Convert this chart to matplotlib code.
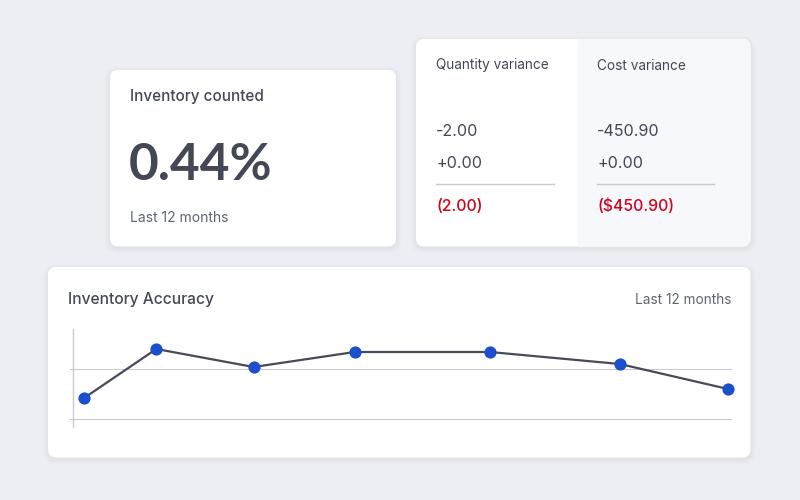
import matplotlib
matplotlib.use("Agg")
import matplotlib.pyplot as plt
from matplotlib.patches import FancyBboxPatch, Rectangle

plt.rcParams['font.family'] = ['Inter', 'DejaVu Sans']

# ---------------- data ----------------
counted_title = "Inventory counted"
counted_value = "0.44%"
period_label = "Last 12 months"
variance_titles = ["Quantity variance", "Cost variance"]
variance_negative = ["-2.00", "-450.90"]
variance_positive = ["+0.00", "+0.00"]
variance_totals = ["(2.00)", "($450.90)"]
chart_title = "Inventory Accuracy"
accuracy_days = [6, 46, 100, 156, 231, 303, 363]
accuracy_values = [21, 70, 52, 67, 67, 55, 30]
grid_levels = [0, 50]

# ---------------- style ----------------
BG = '#edeef3'
TXT = '#434854'
SUB = '#5e6472'
RED = '#d0021b'
GRID = '#c9cacd'
LINE = '#474b57'
DOT = '#1b4fcc'

W, H = 800, 500
fig = plt.figure(figsize=(8, 5), dpi=100)
fig.patch.set_facecolor(BG)
bg = fig.add_axes([0, 0, 1, 1])
bg.set_xlim(0, W)
bg.set_ylim(H, 0)
bg.axis('off')


def card(x0, y0, x1, y1, color='white', r=8, shadow=True):
    if shadow:
        for k in range(1, 7):
            bg.add_patch(FancyBboxPatch((x0 - k + 0.5, y0 - k + 3), (x1 - x0) + 2 * k - 1,
                                        (y1 - y0) + 2 * k - 2,
                                        boxstyle=f"round,pad=0,rounding_size={r + k}",
                                        fc='#3a4060', ec='none', alpha=0.009, zorder=1))
    bg.add_patch(FancyBboxPatch((x0, y0), x1 - x0, y1 - y0,
                                boxstyle=f"round,pad=0,rounding_size={r}",
                                fc=color, ec='none', zorder=2))


# card 1
card(110, 70, 396, 246.5)
bg.text(130, 100.5, counted_title, fontsize=11, weight='medium', color=TXT, va='baseline', zorder=5)
bg.text(128.5, 180, counted_value, fontsize=37, weight='bold', color=TXT, va='baseline', zorder=5,
        family=['Lato', 'DejaVu Sans'])
bg.text(130, 222.3, period_label, fontsize=10, color=SUB, va='baseline', zorder=5)

# card 2
card(416, 39, 750.5, 246.5)
bg.add_patch(FancyBboxPatch((577.5, 39), 750.5 - 577.5, 246.5 - 39,
                            boxstyle="round,pad=0,rounding_size=8",
                            fc='#f7f8fc', ec='none', zorder=3))
bg.add_patch(Rectangle((577.5, 39), 12, 246.5 - 39, fc='#f7f8fc', ec='none', zorder=3))

col_x = [436, 597.3]
div_end = [554, 714]
for i in range(2):
    x = col_x[i]
    bg.text(x, 69.5, variance_titles[i], fontsize=9.8, color=TXT, va='baseline', zorder=5)
    bg.text(x, 136, variance_negative[i], fontsize=11.6, color=TXT, va='baseline', zorder=5)
    bg.text(x, 168, variance_positive[i], fontsize=11.6, color=TXT, va='baseline', zorder=5)
    bg.plot([x, div_end[i]], [183.5, 183.5], color=GRID, lw=1, zorder=5)
    bg.text(x, 211, variance_totals[i], fontsize=11.4, weight='medium', color=RED, va='baseline', zorder=5)

# card 3
card(48, 267, 750.5, 457.5)
bg.text(68.5, 304.3, chart_title, fontsize=11.2, weight='medium', color=TXT, va='baseline', zorder=5)
bg.text(731.5, 303.5, period_label, fontsize=9.8, color=SUB, va='baseline', ha='right', zorder=5)

# line chart
ax_l, ax_r, ax_t, ax_b = 73.3, 731.7, 329, 427
ax = fig.add_axes([ax_l / W, 1 - ax_b / H, (ax_r - ax_l) / W, (ax_b - ax_t) / H])
ax.set_facecolor('none')
ax.set_xlim(0, 365)
ax.set_ylim(-8, 90)
for s in ['top', 'right', 'bottom']:
    ax.spines[s].set_visible(False)
ax.spines['left'].set_color(GRID)
ax.spines['left'].set_linewidth(1)
ax.set_xticks([])
ax.set_yticks(grid_levels)
ax.set_yticklabels([])
ax.tick_params(axis='y', length=2.9, width=0.75, color=GRID)
ax.grid(axis='y', color=GRID, linewidth=0.75)
ax.set_axisbelow(True)
ax.plot(accuracy_days, accuracy_values, color=LINE, lw=1.6, zorder=3, clip_on=False)
ax.plot(accuracy_days, accuracy_values, 'o', color=DOT, ms=8.8, mec='none', zorder=4, clip_on=False)

fig.savefig('out.png', dpi=100, facecolor=BG)
